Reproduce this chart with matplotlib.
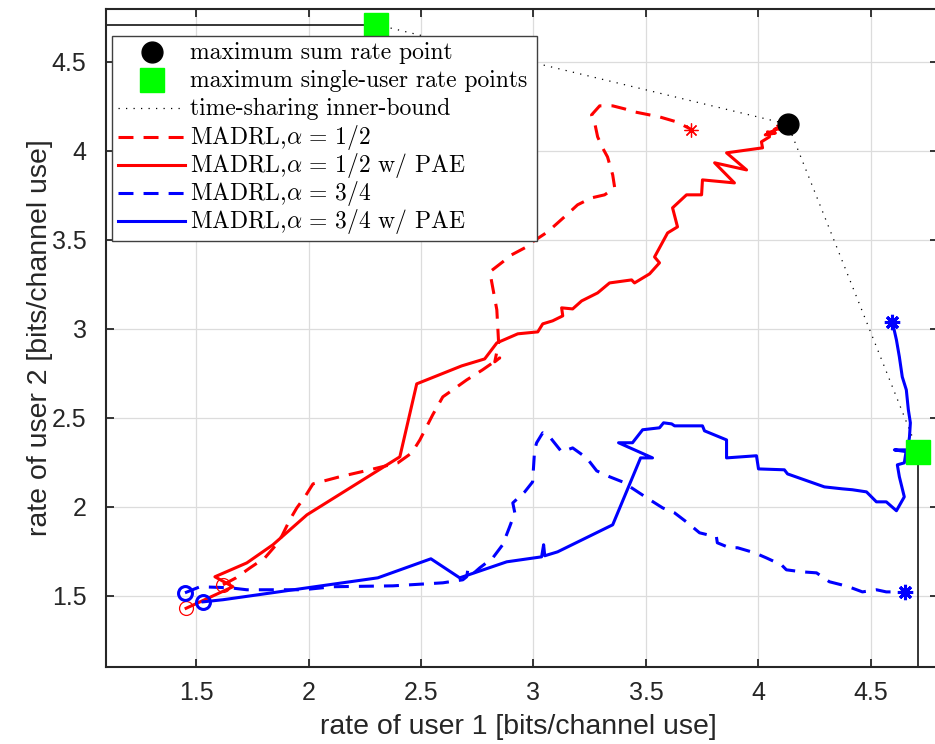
import numpy as np
import matplotlib.pyplot as plt
from matplotlib.patches import Rectangle

plt.rcParams['font.family'] = ['Liberation Sans', 'DejaVu Sans']
plt.rcParams['mathtext.fontset'] = 'cm'

# corner points of the rate region
sum_rate_pt = (4.13, 4.15)
single_user_x = [2.30, 4.71]
single_user_y = [4.71, 2.31]

# MADRL, alpha = 1/2 (dashed)
r_dash_x = [1.620, 1.678, 1.740, 1.806, 1.860, 1.882, 1.917, 1.948, 1.984, 2.020,
            2.139, 2.273, 2.397, 2.459, 2.495, 2.552, 2.597, 2.641, 2.703, 2.774,
            2.850, 2.828, 2.845, 2.837, 2.806, 2.863, 2.903, 2.970, 2.996, 3.063,
            3.147, 3.196, 3.258, 3.316, 3.361, 3.352, 3.329, 3.307, 3.285, 3.272,
            3.258, 3.294, 3.352, 3.405, 3.449, 3.560, 3.636, 3.702]
r_dash_y = [1.562, 1.601, 1.657, 1.713, 1.792, 1.837, 1.927, 1.994, 2.056, 2.129,
            2.169, 2.208, 2.247, 2.303, 2.376, 2.517, 2.618, 2.657, 2.713, 2.770,
            2.837, 2.815, 2.921, 3.107, 3.320, 3.376, 3.416, 3.461, 3.489, 3.545,
            3.640, 3.697, 3.736, 3.753, 3.792, 3.865, 3.966, 4.017, 4.079, 4.157,
            4.202, 4.253, 4.253, 4.236, 4.219, 4.191, 4.163, 4.120]

# MADRL, alpha = 1/2 w/ PAE (solid)
r_sol_x = [1.456, 1.664, 1.584, 1.726, 1.842, 1.993, 2.406, 2.481, 2.681, 2.783,
           2.837, 2.930, 3.019, 3.041, 3.085, 3.130, 3.125, 3.174, 3.214, 3.285,
           3.338, 3.436, 3.449, 3.516, 3.560, 3.538, 3.596, 3.640, 3.618, 3.680,
           3.747, 3.751, 3.893, 3.805, 3.947, 3.858, 4.018, 4.013, 4.049, 4.040,
           4.075, 4.030, 4.093, 4.070, 4.107]
r_sol_y = [1.430, 1.551, 1.607, 1.685, 1.787, 1.955, 2.281, 2.691, 2.792, 2.831,
           2.921, 2.972, 2.983, 3.028, 3.045, 3.073, 3.118, 3.112, 3.157, 3.202,
           3.258, 3.275, 3.258, 3.309, 3.371, 3.404, 3.539, 3.573, 3.680, 3.753,
           3.753, 3.837, 3.820, 3.933, 3.893, 3.989, 4.017, 4.051, 4.079, 4.107,
           4.100, 4.090, 4.129, 4.120, 4.146]

# MADRL, alpha = 3/4 (dashed)
b_dash_x = [1.451, 1.518, 1.651, 1.726, 1.975, 2.108, 2.375, 2.597, 2.686, 2.703,
            2.708, 2.726, 2.761, 2.819, 2.863, 2.894, 2.917, 2.908, 2.961, 2.996,
            3.005, 3.014, 3.041, 3.072, 3.125, 3.174, 3.236, 3.281, 3.338, 3.396,
            3.503, 3.574, 3.627, 3.685, 3.738, 3.813, 3.817, 3.871, 3.907, 3.982,
            4.035, 4.102, 4.124, 4.191, 4.258, 4.315, 4.368, 4.413, 4.462, 4.524,
            4.568, 4.653]
b_dash_y = [1.517, 1.551, 1.545, 1.534, 1.534, 1.551, 1.556, 1.573, 1.590, 1.607,
            1.646, 1.618, 1.657, 1.713, 1.787, 1.888, 1.966, 2.022, 2.084, 2.140,
            2.320, 2.360, 2.416, 2.393, 2.309, 2.331, 2.275, 2.202, 2.169, 2.140,
            2.051, 1.994, 1.966, 1.910, 1.854, 1.831, 1.798, 1.770, 1.770, 1.742,
            1.713, 1.674, 1.646, 1.635, 1.629, 1.579, 1.562, 1.545, 1.522, 1.534,
            1.522, 1.522]

# MADRL, alpha = 3/4 w/ PAE (solid)
b_sol_x = [1.531, 1.620, 2.308, 2.544, 2.672, 2.881, 3.036, 3.045, 3.050, 3.107,
           3.352, 3.476, 3.529, 3.378, 3.440, 3.485, 3.560, 3.578, 3.614, 3.627,
           3.751, 3.760, 3.858, 3.858, 3.991, 4.000, 4.115, 4.129, 4.293, 4.373,
           4.417, 4.480, 4.506, 4.524, 4.568, 4.613, 4.648, 4.626, 4.617, 4.648,
           4.657, 4.604, 4.662, 4.671, 4.675, 4.666, 4.657, 4.639, 4.626, 4.613,
           4.595]
b_sol_y = [1.466, 1.478, 1.601, 1.708, 1.601, 1.691, 1.719, 1.787, 1.725, 1.747,
           1.899, 2.275, 2.275, 2.360, 2.360, 2.433, 2.444, 2.472, 2.466, 2.455,
           2.455, 2.427, 2.376, 2.275, 2.287, 2.213, 2.208, 2.185, 2.112, 2.101,
           2.096, 2.084, 2.051, 2.028, 2.028, 1.978, 2.056, 2.169, 2.236, 2.247,
           2.320, 2.320, 2.309, 2.393, 2.472, 2.545, 2.657, 2.730, 2.843, 2.938,
           3.039]

xticks = [1.5, 2, 2.5, 3, 3.5, 4, 4.5]
yticks = [1.5, 2, 2.5, 3, 3.5, 4, 4.5]
tick_labels = ['1.5', '2', '2.5', '3', '3.5', '4', '4.5']

labels = ['maximum sum rate point', 'maximum single-user rate points',
          'time-sharing inner-bound', r'MADRL,$\alpha \,=\, 1/2$',
          r'MADRL,$\alpha \,=\, 1/2$ w/ PAE', r'MADRL,$\alpha \,=\, 3/4$',
          r'MADRL,$\alpha \,=\, 3/4$ w/ PAE']

fig = plt.figure(figsize=(9.35, 7.44), dpi=100)
ax = fig.add_axes([106 / 935, 77 / 744, 832.5 / 935, 658.5 / 744])

dash = (0, (4.9, 3.3))
dot = (0, (1, 5))
lw = 2.2
asterisk = (8, 2, 0)

# boundary segments and time-sharing bound
ax.plot([0, single_user_x[0]], [single_user_y[0], single_user_y[0]], color='k', lw=1.1)
ax.plot([single_user_x[1], single_user_x[1]], [0, single_user_y[1]], color='k', lw=1.1)
tx = [single_user_x[0], sum_rate_pt[0], single_user_x[1]]
ty = [single_user_y[0], sum_rate_pt[1], single_user_y[1]]
ax.plot(tx, ty, color='k', lw=0.9, linestyle=dot)

# trajectories
ax.plot(r_dash_x, r_dash_y, color='red', lw=lw, linestyle=dash)
ax.plot(r_sol_x, r_sol_y, color='red', lw=lw)
ax.plot(b_dash_x, b_dash_y, color='blue', lw=lw, linestyle=dash)
ax.plot(b_sol_x, b_sol_y, color='blue', lw=lw)

# start / end markers
for xs, ys, c, mew, ms in [(r_dash_x, r_dash_y, 'red', 0.9, 10), (r_sol_x, r_sol_y, 'red', 0.9, 10),
                           (b_dash_x, b_dash_y, 'blue', 2.2, 11), (b_sol_x, b_sol_y, 'blue', 2.2, 11)]:
    ax.plot(xs[0], ys[0], 'o', ms=10, mfc='none', mec=c, mew=mew)
    ax.plot(xs[-1], ys[-1], marker=asterisk, ms=ms, mfc='none', mec=c, mew=mew)

ax.plot(single_user_x, single_user_y, 's', ms=17, color='#00ff00', mec='#00ff00')
ax.plot(*sum_rate_pt, 'o', ms=15, color='k')

ax.set_xlim(1.1, 4.8)
ax.set_ylim(1.1, 4.8)
ax.set_xticks(xticks)
ax.set_yticks(yticks)
ax.set_xticklabels(tick_labels)
ax.set_yticklabels(tick_labels)
ax.grid(True, color='#dcdcdc', lw=0.9)
ax.set_axisbelow(True)
ax.tick_params(direction='in', length=6, width=1.3, top=True, right=True,
               labelsize=18, colors='#262626')
ax.tick_params(axis='x', pad=10)
ax.tick_params(axis='y', pad=14)
for s in ax.spines.values():
    s.set_linewidth(1.5)
    s.set_color('#262626')

ax.set_xlabel('rate of user 1 [bits/channel use]', fontsize=20.5, color='#262626')
ax.set_ylabel('rate of user 2 [bits/channel use]', fontsize=20.5, color='#262626')
ax.xaxis.set_label_coords(0.495, -0.072)
ax.yaxis.set_label_coords(-0.064, 0.5)


# legend, laid out by hand so every row has the same pitch
def px(x, y):
    # image pixel -> axes fraction
    return (x - 106) / 832.5, (667 - y) / 658.5


x0, y0 = px(112, 36)
x1, y1 = px(537, 241)
ax.add_patch(Rectangle((x0, y1), x1 - x0, y0 - y1, transform=ax.transAxes,
                       facecolor='white', edgecolor='#404040', lw=1.0, zorder=10))

styles = [
    dict(ls='none', marker='o', ms=15, color='k'),
    dict(ls='none', marker='s', ms=17, color='#00ff00'),
    dict(color='k', lw=0.9, linestyle=dot),
    dict(color='red', lw=lw, linestyle=dash),
    dict(color='red', lw=lw),
    dict(color='blue', lw=lw, linestyle=dash),
    dict(color='blue', lw=lw),
]
for i, (lab, st) in enumerate(zip(labels, styles)):
    yc = 52 + 28.2 * i
    if st.get('ls') == 'none':
        hx, hy = px(151.5, yc)
        ax.plot([hx], [hy], transform=ax.transAxes, zorder=11, **st)
    else:
        ha, hy = px(118, yc)
        hb, _ = px(185, yc)
        ax.plot([ha, hb], [hy, hy], transform=ax.transAxes, zorder=11, **st)
    tx_, ty_ = px(190, yc + 7)
    ax.text(tx_, ty_, lab, transform=ax.transAxes, family='cmr10', fontsize=17,
            va='baseline', ha='left', zorder=12)

fig.savefig('out.png', dpi=100)
